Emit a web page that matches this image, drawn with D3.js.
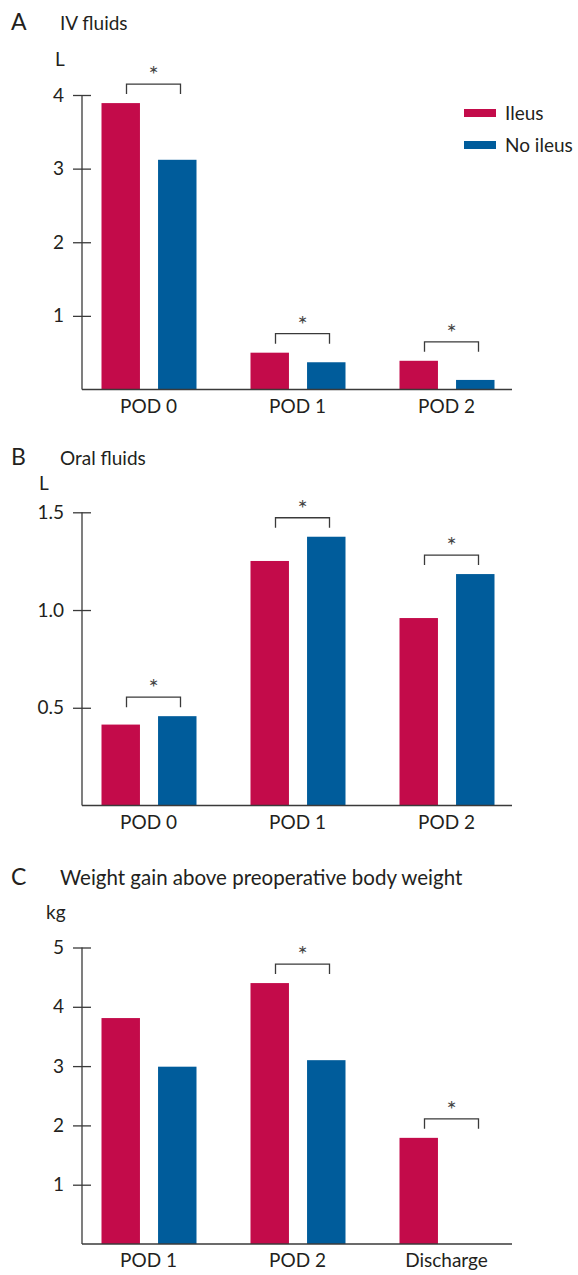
<!DOCTYPE html>
<html lang="en">
<head>
    <meta charset="UTF-8">
    <title>Ileus fluids and weight</title>
    <script src="https://d3js.org/d3.v7.min.js"></script>
    <style>
        body { margin: 0; background: #fff; }
        svg text { font-family: Lato, "Liberation Sans", sans-serif; fill: #231f20; }
    </style>
</head>
<body>
<div id="chart"></div>
<script>
    // series
    const seriesNames = ["Ileus", "No ileus"];
    const RED = "#c30b4a";
    const BLUE = "#005c9b";

    // A - IV fluids (L)
    const ivCategories = ["POD 0", "POD 1", "POD 2"];
    const ivIleus = [3.89, 0.50, 0.39];
    const ivNoIleus = [3.12, 0.37, 0.13];
    const ivSig = [true, true, true];
    const ivTicks = [1, 2, 3, 4];

    // B - Oral fluids (L)
    const oralCategories = ["POD 0", "POD 1", "POD 2"];
    const oralIleus = [0.414, 1.251, 0.959];
    const oralNoIleus = [0.457, 1.375, 1.184];
    const oralSig = [true, true, true];
    const oralTicks = [0.5, 1.0, 1.5];

    // C - Weight gain (kg)
    const weightCategories = ["POD 1", "POD 2", "Discharge"];
    const weightIleus = [3.81, 4.40, 1.79];
    const weightNoIleus = [2.99, 3.10, null];
    const weightSig = [false, true, true];
    const weightTicks = [1, 2, 3, 4, 5];

    const svg = d3.select("#chart").append("svg")
        .attr("width", 578)
        .attr("height", 1275);

    const AXIS_X = 82;
    const AXIS_END = 512;
    const INK = "#3a3a3a";

    function drawPanel(opts) {
        const g = svg.append("g");

        // panel letter + title
        g.append("text").attr("x", 11).attr("y", opts.titleY)
            .style("font-size", "23px").text(opts.letter);
        g.append("text").attr("x", 60).attr("y", opts.titleY)
            .style("font-size", opts.titleSize || "19px").text(opts.title);
        g.append("text").attr("x", opts.unitX).attr("y", opts.unitY)
            .style("font-size", "19px").text(opts.unit);

        const y = d3.scaleLinear().domain([0, opts.max]).range([opts.base, opts.top]);
        const x = d3.scaleBand().domain(opts.categories).range([74, 521]);
        const xs = d3.scaleBand().domain(seriesNames).range([27.5, 122.5]).paddingInner(0.32);

        // bars
        const rows = opts.categories.map((c, i) => ({
            cat: c, vals: [opts.ileus[i], opts.noIleus[i]], sig: opts.sig[i]
        }));
        const grp = g.selectAll(".grp").data(rows).enter().append("g")
            .attr("transform", d => `translate(${x(d.cat)},0)`);
        grp.selectAll("rect")
            .data(d => d.vals.map((v, k) => ({ v, k })).filter(e => e.v != null))
            .enter().append("rect")
            .attr("x", e => xs(seriesNames[e.k]))
            .attr("width", xs.bandwidth())
            .attr("y", e => y(e.v))
            .attr("height", e => y(0) - y(e.v))
            .attr("fill", e => e.k === 0 ? RED : BLUE);

        // significance brackets
        grp.filter(d => d.sig).each(function (d) {
            const top = d3.min(d.vals.filter(v => v != null), v => y(v)) - 19;
            const c = x.bandwidth() / 2 + 5;
            const sel = d3.select(this);
            sel.append("path")
                .attr("d", `M${c - 27},${top + 10}V${top}H${c + 27}V${top + 10}`)
                .attr("fill", "none").attr("stroke", INK).attr("stroke-width", 1.3);
            sel.append("text").attr("x", c).attr("y", top - 1)
                .attr("text-anchor", "middle").style("font-size", "24px")
                .style("fill", "#444").text("*");
        });

        // y axis, ticks cross the axis line
        const ya = g.append("g").attr("transform", `translate(${AXIS_X},0)`)
            .call(d3.axisLeft(y).tickValues(opts.ticks).tickSize(9).tickPadding(9)
                .tickFormat(opts.fmt || d3.format("d")));
        ya.select(".domain").remove();
        ya.selectAll(".tick line").attr("x2", 9).attr("x1", -9)
            .attr("stroke", INK).attr("stroke-width", 1.3);
        ya.selectAll("text").style("font-size", "19px").attr("font-family", null);
        g.append("line").attr("x1", AXIS_X).attr("x2", AXIS_X)
            .attr("y1", y(opts.max)).attr("y2", y(0))
            .attr("stroke", INK).attr("stroke-width", 1.3);

        // x axis
        const xa = g.append("g").attr("transform", `translate(0,${y(0)})`)
            .call(d3.axisBottom(x).tickSize(0).tickPadding(10));
        xa.select(".domain").remove();
        xa.selectAll("text").style("font-size", "19px").attr("font-family", null);
        g.append("line").attr("x1", AXIS_X).attr("x2", AXIS_END)
            .attr("y1", y(0)).attr("y2", y(0))
            .attr("stroke", INK).attr("stroke-width", 1.5);
    }

    drawPanel({
        letter: "A", title: "IV fluids", titleY: 30, unit: "L", unitX: 55, unitY: 66,
        categories: ivCategories, ileus: ivIleus, noIleus: ivNoIleus, sig: ivSig,
        ticks: ivTicks, max: 4, base: 389.5, top: 95
    });
    drawPanel({
        letter: "B", title: "Oral fluids", titleY: 465, unit: "L", unitX: 39, unitY: 490,
        categories: oralCategories, ileus: oralIleus, noIleus: oralNoIleus, sig: oralSig,
        ticks: oralTicks, max: 1.5, base: 805.5, top: 512.3, fmt: d3.format(".1f")
    });
    drawPanel({
        letter: "C", title: "Weight gain above preoperative body weight", titleY: 885,
        titleSize: "20.5px", unit: "kg", unitX: 46, unitY: 919,
        categories: weightCategories, ileus: weightIleus, noIleus: weightNoIleus, sig: weightSig,
        ticks: weightTicks, max: 5, base: 1244, top: 947.5
    });

    // legend
    const legend = svg.append("g").attr("transform", "translate(464,113)");
    seriesNames.forEach((name, i) => {
        legend.append("rect").attr("x", 0).attr("y", i * 32 - 4)
            .attr("width", 32).attr("height", 8).attr("fill", i === 0 ? RED : BLUE);
        legend.append("text").attr("x", 41).attr("y", i * 32)
            .attr("dy", "0.35em").style("font-size", "19px").text(name);
    });
</script>
</body>
</html>
